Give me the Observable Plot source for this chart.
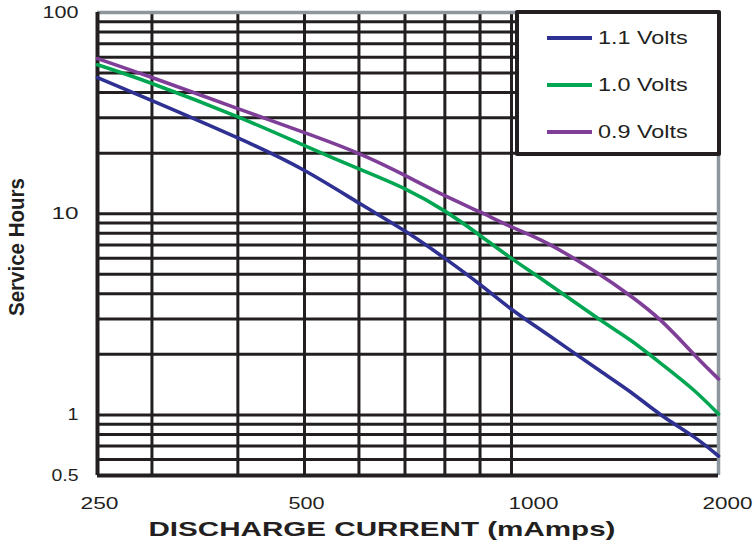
<!DOCTYPE html>
<html>
<head>
<meta charset="utf-8">
<script src="https://cdn.jsdelivr.net/npm/d3@7"></script>
<script src="https://cdn.jsdelivr.net/npm/@observablehq/plot@0.6"></script>
<style>
  html, body { margin: 0; padding: 0; background: #fff; }
  #wrap { position: relative; width: 754px; height: 546px; font-family: "Liberation Sans", Arial, sans-serif; color: #231f20; }
  #legend { position: absolute; left: 515px; top: 10px; width: 206px; height: 146px; box-sizing: border-box;
            border: 4px solid #231f20; border-radius: 2px; background: #fff; }
  .row { position: absolute; left: 28px; height: 24px; display: flex; align-items: center; }
  .sw { width: 45px; height: 4px; margin-right: 6px; }
  .lab { font-size: 19px; display: inline-block; transform: scaleX(1.23); transform-origin: left center; white-space: nowrap; }
</style>
</head>
<body>
<div id="wrap"></div>
<script>
// ---- data ----
const current = [250, 300, 400, 500, 600, 700, 800, 900, 1000, 1130, 1330, 1490, 1650, 1840, 2000];
const seriesNames = ["1.1 Volts", "1.0 Volts", "0.9 Volts"];
const hours11 = [47.5, 36.5, 23.8, 16.4, 11.3, 8.2, 6.0, 4.45, 3.35, 2.5, 1.7, 1.3, 1.0, 0.78, 0.625];
const hours10 = [55, 44.4, 30.3, 21.8, 16.7, 13.3, 10.3, 7.8, 6.0, 4.5, 3.05, 2.35, 1.8, 1.33, 1.01];
const hours09 = [59, 47.5, 33.3, 25.3, 19.9, 15.5, 12.3, 10.2, 8.6, 7.1, 5.1, 3.9, 2.94, 2.01, 1.51];
const seriesColors = ["#2e3192", "#00a651", "#7f3f98"];
const xGridValues = [300, 400, 500, 600, 700, 800, 900, 1000];
const yGridValues = [0.6, 0.7, 0.8, 0.9, 1, 2, 3, 4, 5, 6, 7, 8, 9, 10, 20, 30, 40, 50, 60, 70, 80, 90];
const yTickLabels = [0.5, 1, 10, 100];
const xTickLabelsA = [250, 500];
const xTickLabelB = [1000];
const xTickLabelC = [2000];
const xTitle = "DISCHARGE CURRENT (mAmps)";
const yTitle = "Service Hours";

const allValues = [hours11, hours10, hours09];
const table = seriesNames.flatMap((name, i) => current.map((c, j) => ({current: c, hours: allValues[i][j], series: name})));

const ink = "#231f20";
const gray = "#8c969c";
const tickFmt = d => String(d);

const chart = Plot.plot({
  width: 754, height: 546,
  marginLeft: 97, marginRight: 36, marginTop: 12, marginBottom: 71,
  x: {type: "log", domain: [250, 2000]},
  y: {type: "log", domain: [0.5, 100]},
  color: {domain: seriesNames, range: seriesColors},
  style: {fontFamily: "'Liberation Sans', Arial, sans-serif", color: ink, background: "white", overflow: "visible"},
  marks: [
    Plot.ruleX(xGridValues, {stroke: ink, strokeWidth: 3}),
    Plot.ruleY(yGridValues, {stroke: ink, strokeWidth: 3}),
    Plot.ruleY([100], {stroke: gray, strokeWidth: 3.5}),
    Plot.ruleX([2000], {stroke: gray, strokeWidth: 3.5}),
    Plot.ruleX([250], {stroke: ink, strokeWidth: 4}),
    Plot.ruleY([0.5], {stroke: ink, strokeWidth: 4}),
    Plot.line(table, {x: "current", y: "hours", stroke: "series", strokeWidth: 3.6, curve: "natural"}),
    Plot.axisY(yTickLabels, {tickSize: 0, tickPadding: 19, fontSize: 16, tickFormat: tickFmt, label: null}),
    Plot.axisX(xTickLabelsA, {tickSize: 0, tickPadding: 22, fontSize: 16.5, tickFormat: tickFmt, label: null, dx: 2}),
    Plot.axisX(xTickLabelB, {tickSize: 0, tickPadding: 22, fontSize: 16.5, tickFormat: tickFmt, label: null, dx: 22}),
    Plot.axisX(xTickLabelC, {tickSize: 0, tickPadding: 22, fontSize: 16.5, tickFormat: tickFmt, label: null, dx: 9}),
    Plot.text([yTitle], {frameAnchor: "left", textAnchor: "middle", dx: -81, dy: 3, rotate: -90, fontSize: 22, fontWeight: "bold", fill: ink}),
    Plot.text([xTitle], {frameAnchor: "bottom", textAnchor: "middle", dy: 60, dx: -26, fontSize: 21, fontWeight: "bold", fill: ink})
  ]
});

// stretch texts horizontally like the reference
const stretch = new Map([
  ["100", 36], ["10", 27], ["1", 11], ["0.5", 27],
  ["250", 38], ["500", 36], ["1000", 50], ["2000", 50],
  [yTitle, 138], [xTitle, 467]
]);
d3.select(chart).selectAll("text").each(function () {
  const t = this.textContent;
  if (stretch.has(t)) {
    this.setAttribute("textLength", stretch.get(t));
    this.setAttribute("lengthAdjust", "spacingAndGlyphs");
  }
});

const wrap = document.getElementById("wrap");
wrap.appendChild(chart);

const legend = document.createElement("div");
legend.id = "legend";
const rowTops = [12, 59, 106];
seriesNames.forEach((name, i) => {
  const row = document.createElement("div");
  row.className = "row";
  row.style.top = rowTops[i] + "px";
  const sw = document.createElement("div");
  sw.className = "sw";
  sw.style.background = seriesColors[i];
  const lab = document.createElement("span");
  lab.className = "lab";
  lab.textContent = name;
  row.appendChild(sw);
  row.appendChild(lab);
  legend.appendChild(row);
});
wrap.appendChild(legend);
</script>
</body>
</html>
